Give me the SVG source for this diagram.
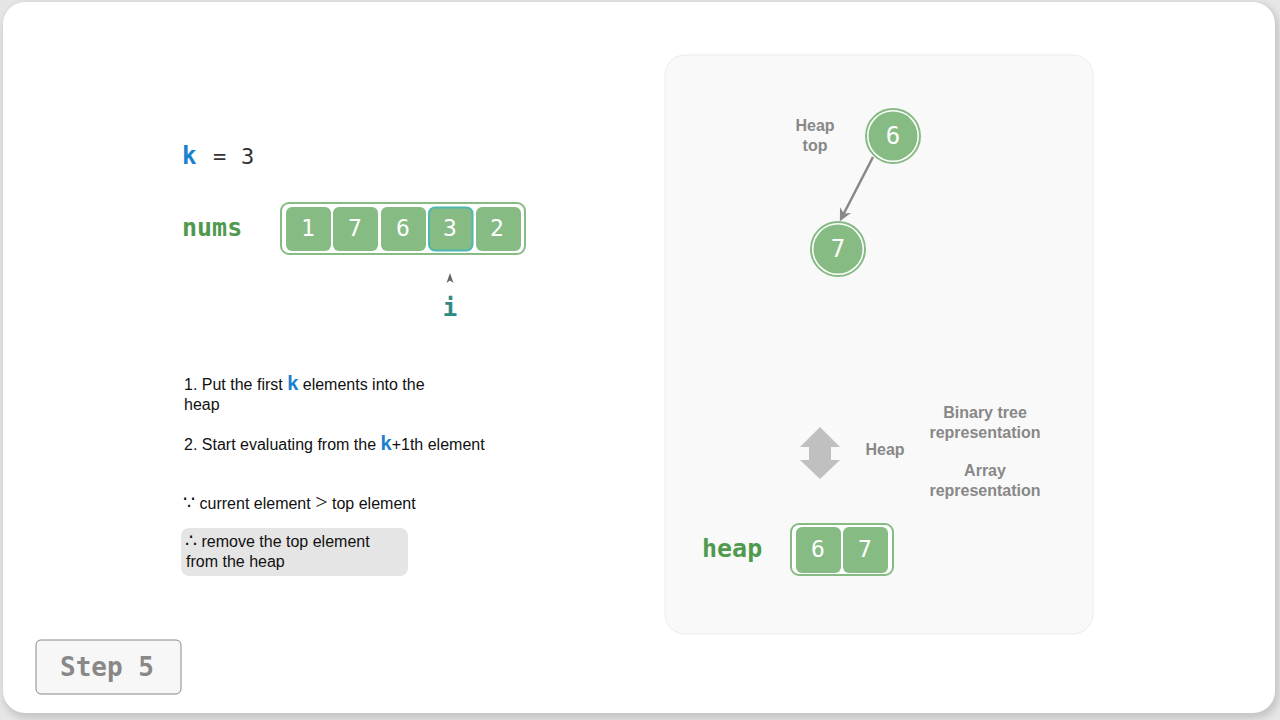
<svg xmlns="http://www.w3.org/2000/svg" width="1280" height="720" viewBox="0 0 1280 720">
<defs>
<style>
.cell{fill:#86bb84;}
.box{fill:#ffffff;stroke:#86bb84;stroke-width:2;}
.num{font-family:"DejaVu Sans Mono",monospace;font-size:23px;fill:#ffffff;text-anchor:middle;}
.lbl{font-family:"DejaVu Sans Mono",monospace;font-weight:bold;font-size:25px;fill:#4f9a4f;}
.txt{font-family:"Liberation Sans",Arial,sans-serif;font-size:16px;fill:#111111;}
.kb{font-family:"Liberation Sans",Arial,sans-serif;font-weight:bold;font-size:20px;fill:#1a82cc;}
.gray{font-family:"Liberation Sans",Arial,sans-serif;font-weight:bold;font-size:16px;fill:#888888;text-anchor:middle;}
.sym{font-family:"DejaVu Sans",sans-serif;font-size:19px;}
</style>
<filter id="sh" x="-5%" y="-5%" width="110%" height="110%">
<feGaussianBlur stdDeviation="3"/>
</filter>
<marker id="ah" viewBox="0 0 10 10" refX="8" refY="5" markerWidth="5" markerHeight="5" orient="auto">
<path d="M0,0 L10,5 L0,10 L3,5 Z" fill="#888888"/>
</marker>
</defs>
<rect x="0" y="0" width="1280" height="720" fill="#e6e6e6"/>
<rect x="3" y="3" width="1276" height="716" rx="24" fill="#c8c8c8" filter="url(#sh)"/>
<rect x="3" y="2" width="1272" height="711" rx="22" fill="#ffffff"/>

<g id="panel">
<rect x="665" y="55" width="428" height="579" rx="20" fill="#f9f9f9" stroke="#ececec" stroke-width="1"/>
</g>

<g id="kvar">
<text x="182" y="164" class="kb" style="font-family:'DejaVu Sans Mono',monospace;font-size:24px">k</text>
<text x="213" y="164" style="font-family:'DejaVu Sans Mono',monospace;font-size:22px;fill:#333333">=</text>
<text x="241" y="164" style="font-family:'DejaVu Sans Mono',monospace;font-size:22px;fill:#333333">3</text>
</g>

<g id="nums">
<text x="182" y="236" class="lbl">nums</text>
<rect x="281" y="203" width="244" height="51" rx="8" class="box"/>
<rect x="286" y="207" width="45" height="44" rx="6" class="cell"/>
<rect x="333" y="207" width="45" height="44" rx="6" class="cell"/>
<rect x="381" y="207" width="45" height="44" rx="6" class="cell"/>
<rect x="429" y="207.5" width="43.5" height="43" rx="6" class="cell" stroke="#4db8b0" stroke-width="2"/>
<rect x="476" y="207" width="45" height="44" rx="6" class="cell"/>
<text x="308" y="236" class="num">1</text>
<text x="355" y="236" class="num">7</text>
<text x="403" y="236" class="num">6</text>
<text x="450" y="236" class="num">3</text>
<text x="497" y="236" class="num">2</text>
</g>

<g id="pointer">
<path d="M446.5,283 L450,273 L453.5,283 L450,280.5 Z" fill="#666666"/>
<text x="450" y="316" style="font-family:'DejaVu Sans Mono',monospace;font-weight:bold;font-size:24px;fill:#2f8a82;text-anchor:middle">i</text>
</g>

<g id="steps">
<text x="184" y="390" class="txt">1. Put the first <tspan class="kb">k</tspan> elements into the</text>
<text x="184" y="410" class="txt">heap</text>
<text x="184" y="450" class="txt">2. Start evaluating from the <tspan class="kb">k</tspan>+1th element</text>
<text x="183" y="509" class="txt"><tspan class="sym">∵</tspan> current element <tspan style="font-family:'Liberation Serif',serif;font-size:22px">&gt;</tspan> top element</text>
<rect x="181" y="528" width="227" height="48" rx="8" fill="#e5e5e5"/>
<text x="185" y="547" class="txt"><tspan class="sym">∴</tspan> remove the top element</text>
<text x="186" y="567" class="txt">from the heap</text>
</g>

<g id="connectors">
<line x1="873" y1="157" x2="841" y2="219" stroke="#888888" stroke-width="2.5" marker-end="url(#ah)"/>
</g>

<g id="node6">
<circle cx="893" cy="136" r="27" fill="#ffffff" stroke="#86bb84" stroke-width="2"/>
<circle cx="893" cy="136" r="24.5" fill="#86bb84"/>
<text x="893" y="144" class="num" style="font-size:24px">6</text>
</g>
<g id="node7">
<circle cx="838" cy="249" r="27" fill="#ffffff" stroke="#86bb84" stroke-width="2"/>
<circle cx="838" cy="249" r="24.5" fill="#86bb84"/>
<text x="838" y="257" class="num" style="font-size:24px">7</text>
</g>
<g id="heaptop">
<text x="815" y="131" class="gray">Heap</text>
<text x="815" y="151" class="gray">top</text>
</g>

<g id="legend">
<path d="M820,427 L840,447 L831,447 L831,460 L840,460 L820,479 L800,460 L809,460 L809,447 L800,447 Z" fill="#c0c0c0"/>
<text x="885" y="455" class="gray">Heap</text>
<text x="985" y="418" class="gray">Binary tree</text>
<text x="985" y="438" class="gray">representation</text>
<text x="985" y="476" class="gray">Array</text>
<text x="985" y="496" class="gray">representation</text>
</g>

<g id="heap">
<text x="702" y="557" class="lbl">heap</text>
<rect x="791" y="524" width="102" height="51" rx="8" class="box"/>
<rect x="796" y="527" width="45" height="46" rx="6" class="cell"/>
<rect x="843" y="527" width="45" height="46" rx="6" class="cell"/>
<text x="818" y="557" class="num">6</text>
<text x="865" y="557" class="num">7</text>
</g>

<g id="step">
<rect x="36" y="640" width="145" height="54" rx="5" fill="#f7f7f7" stroke="#888888" stroke-width="1"/>
<text x="107" y="676" style="font-family:'DejaVu Sans Mono',monospace;font-weight:bold;font-size:26px;fill:#888888;text-anchor:middle">Step 5</text>
</g>
</svg>
